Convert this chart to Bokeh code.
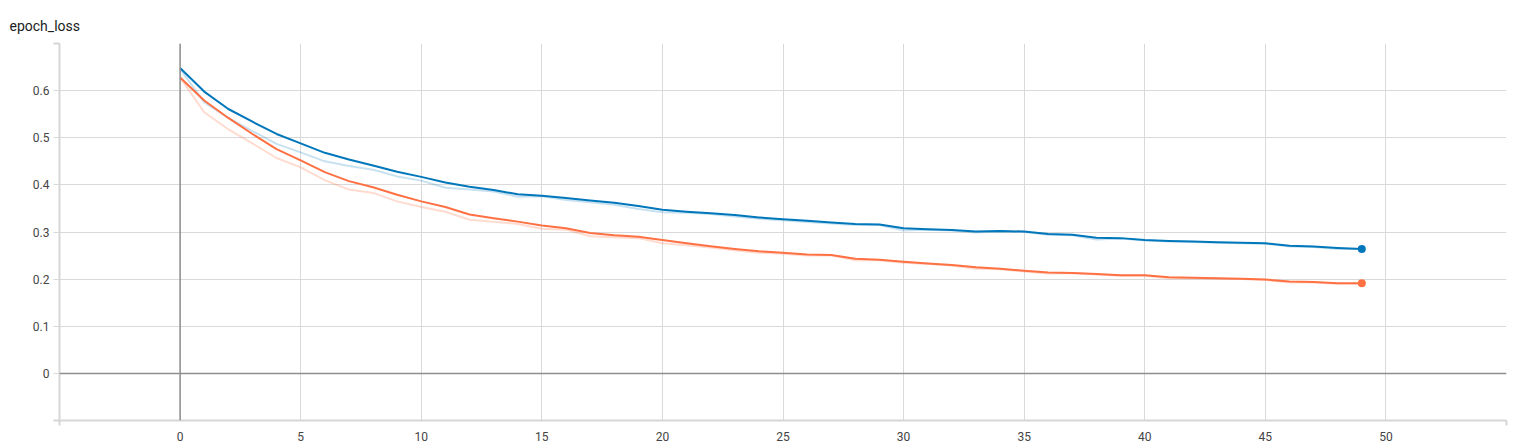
from bokeh.plotting import figure
from bokeh.models import Range1d, FixedTicker, Span
from bokeh.embed import file_html
from bokeh.resources import INLINE

epochs = list(range(50))

blue_smoothed = [0.648, 0.598, 0.561, 0.534, 0.508, 0.488, 0.468, 0.454, 0.441, 0.428,
                 0.417, 0.405, 0.396, 0.389, 0.380, 0.377, 0.372, 0.367, 0.362, 0.355,
                 0.347, 0.343, 0.340, 0.336, 0.331, 0.327, 0.324, 0.320, 0.317, 0.316,
                 0.308, 0.306, 0.304, 0.301, 0.302, 0.301, 0.296, 0.294, 0.288, 0.287,
                 0.283, 0.281, 0.280, 0.278, 0.277, 0.276, 0.271, 0.269, 0.266, 0.264]
blue_raw = [0.646, 0.575, 0.542, 0.514, 0.487, 0.469, 0.450, 0.440, 0.432, 0.418,
            0.409, 0.394, 0.390, 0.386, 0.375, 0.376, 0.368, 0.363, 0.358, 0.349,
            0.342, 0.341, 0.338, 0.333, 0.328, 0.325, 0.321, 0.318, 0.315, 0.315,
            0.303, 0.305, 0.303, 0.299, 0.301, 0.300, 0.294, 0.293, 0.284, 0.286,
            0.282, 0.280, 0.279, 0.277, 0.276, 0.275, 0.269, 0.268, 0.264, 0.264]
orange_smoothed = [0.628, 0.579, 0.542, 0.508, 0.476, 0.452, 0.427, 0.408, 0.395, 0.379,
                   0.365, 0.353, 0.337, 0.329, 0.322, 0.314, 0.308, 0.298, 0.293, 0.290,
                   0.283, 0.276, 0.270, 0.264, 0.259, 0.256, 0.252, 0.251, 0.243, 0.241,
                   0.237, 0.233, 0.230, 0.225, 0.222, 0.218, 0.214, 0.213, 0.211, 0.208,
                   0.208, 0.204, 0.203, 0.202, 0.201, 0.199, 0.195, 0.194, 0.191, 0.191]
orange_raw = [0.628, 0.554, 0.518, 0.488, 0.457, 0.437, 0.410, 0.390, 0.383, 0.365,
              0.353, 0.343, 0.326, 0.322, 0.317, 0.307, 0.305, 0.291, 0.289, 0.287,
              0.276, 0.272, 0.267, 0.261, 0.256, 0.254, 0.250, 0.250, 0.240, 0.240,
              0.235, 0.232, 0.229, 0.222, 0.221, 0.216, 0.212, 0.213, 0.210, 0.207,
              0.207, 0.202, 0.202, 0.201, 0.200, 0.198, 0.193, 0.193, 0.190, 0.190]

x_ticks = [0, 5, 10, 15, 20, 25, 30, 35, 40, 45, 50]
x_edges = [-5, 55]
y_ticks = [0, 0.1, 0.2, 0.3, 0.4, 0.5, 0.6]
y_edges = [-0.1, 0.7]
title_text = "epoch_loss"

BLUE = "#0077bb"
ORANGE = "#ff7043"
GRID = "#d9d9d9"
EDGE = "#d6d6d6"
ZERO = "#8f8f8f"
FONT = "Roboto"

p = figure(width=1518, height=446, output_backend="svg", toolbar_location=None,
           x_range=Range1d(-5, 55), y_range=Range1d(-0.1, 0.7),
           min_border_left=59, min_border_right=12, min_border_top=43, min_border_bottom=26)
p.outline_line_color = None
p.background_fill_color = "white"
p.border_fill_color = "white"

p.title.text = title_text
p.title.align = "left"
p.title.offset = -50
p.title.standoff = 19
p.title.text_font = FONT
p.title.text_font_size = "14px"
p.title.text_font_style = "normal"
p.title.text_color = "#212121"

# x axis
xa = p.xaxis[0]
xa.ticker = FixedTicker(ticks=x_ticks, minor_ticks=x_edges)
xa.axis_line_color = EDGE
xa.axis_line_width = 2
xa.major_tick_out = 0
xa.major_tick_in = 0
xa.minor_tick_out = 5
xa.minor_tick_in = 0
xa.minor_tick_line_color = EDGE
xa.minor_tick_line_width = 2
xa.major_label_standoff = 6
xa.major_label_text_font = FONT
xa.major_label_text_font_size = "12px"
xa.major_label_text_color = "#444444"

# y axis
ya = p.yaxis[0]
ya.ticker = FixedTicker(ticks=y_ticks, minor_ticks=y_edges)
ya.axis_line_color = EDGE
ya.axis_line_width = 2
ya.major_tick_out = 6
ya.major_tick_in = 0
ya.major_tick_line_color = GRID
ya.minor_tick_out = 6
ya.minor_tick_in = 0
ya.minor_tick_line_color = EDGE
ya.minor_tick_line_width = 2
ya.major_label_standoff = 4
ya.major_label_text_font = FONT
ya.major_label_text_font_size = "12px"
ya.major_label_text_color = "#444444"
ya.major_label_overrides = {0: "0"}

p.xgrid.grid_line_color = GRID
p.xgrid.minor_grid_line_color = EDGE
p.xgrid.minor_grid_line_width = 2
p.ygrid.grid_line_color = GRID
p.ygrid.minor_grid_line_color = EDGE
p.ygrid.minor_grid_line_width = 2

p.add_layout(Span(location=0, dimension="height", line_color=ZERO, line_width=1.5))
p.add_layout(Span(location=0, dimension="width", line_color=ZERO, line_width=1.5))

p.line(epochs, blue_raw, line_color=BLUE, line_alpha=0.22, line_width=2, line_join="round")
p.line(epochs, orange_raw, line_color=ORANGE, line_alpha=0.25, line_width=2, line_join="round")
p.line(epochs, blue_smoothed, line_color=BLUE, line_width=2, line_join="round")
p.line(epochs, orange_smoothed, line_color=ORANGE, line_width=2, line_join="round")
p.scatter([epochs[-1]], [blue_smoothed[-1]], size=8, fill_color=BLUE, line_color=None)
p.scatter([epochs[-1]], [orange_smoothed[-1]], size=8, fill_color=ORANGE, line_color=None)

open("out.html", "w").write(file_html(p, INLINE))
